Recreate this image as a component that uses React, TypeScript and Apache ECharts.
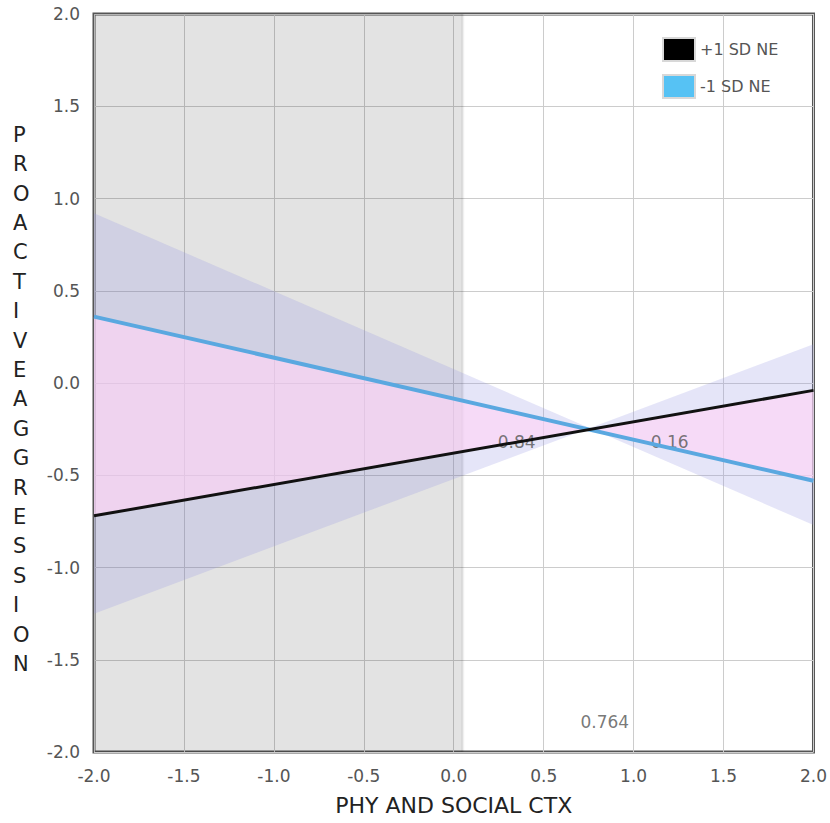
import React, { useEffect, useRef } from "react";
import * as echarts from "echarts";

// ---- data ----
const xRange = [-2, 2];
const plusSD = [-0.72, -0.04]; // +1 SD NE line at x=-2 and x=2
const minusSD = [0.36, -0.53]; // -1 SD NE line at x=-2 and x=2
const ciFalling = [0.92, -0.77]; // confidence band edge (falling)
const ciRising = [-1.25, 0.21]; // confidence band edge (rising)
const jnBound = 0.05; // end of shaded region of non-significance
const annotationX = [0.35, 1.2, 0.84];
const annotationY = [-0.32, -0.32, -1.84];
const annotationText = ["0.84", "0.16", "0.764"];
const yTitle = "PROACTIVEAGGRESSION";
const xTitle = "PHY AND SOCIAL CTX";
const seriesNames = ["+1 SD NE", "-1 SD NE"];

const FONT = "DejaVu Sans, Verdana, sans-serif";

export default function App() {
  const ref = useRef<HTMLDivElement>(null);
  useEffect(() => {
    const chart = echarts.init(ref.current!, null, { renderer: "svg" });

    const bowtie = (top: number[], bottom: number[], fill: string) => ({
      type: "custom",
      silent: true,
      clip: true,
      data: [0],
      renderItem: (_p: any, api: any) => {
        const pts = [
          api.coord([xRange[0], top[0]]),
          api.coord([xRange[1], top[1]]),
          api.coord([xRange[1], bottom[1]]),
          api.coord([xRange[0], bottom[0]]),
        ];
        return { type: "polygon", shape: { points: pts }, style: { fill } };
      },
      z: 1,
    });

    const option: any = {
      animation: false,
      backgroundColor: "#ffffff",
      grid: {
        left: 94,
        right: 14,
        top: 14,
        bottom: 71,
        show: true,
        borderColor: "#555555",
        borderWidth: 3,
        backgroundColor: "transparent",
      },
      legend: {
        orient: "vertical",
        left: 657,
        top: 32,
        itemWidth: 32,
        itemHeight: 23,
        itemGap: 12,
        icon: "rect",
        textStyle: { color: "#555", fontSize: 16, fontFamily: FONT },
        data: [
          {
            name: seriesNames[0],
            itemStyle: { color: "#000000", borderColor: "#d8d8d8", borderWidth: 2 },
          },
          {
            name: seriesNames[1],
            itemStyle: { color: "#56c2f4", borderColor: "#d8d8d8", borderWidth: 2 },
          },
        ],
      },
      xAxis: {
        type: "value",
        min: -2,
        max: 2,
        interval: 0.5,
        name: xTitle,
        nameLocation: "middle",
        nameGap: 42,
        nameTextStyle: { color: "#222", fontSize: 22, fontFamily: FONT },
        axisLine: { show: false },
        axisTick: { show: false },
        axisLabel: {
          color: "#555",
          fontSize: 17,
          fontFamily: FONT,
          margin: 15,
          formatter: (v: number) => v.toFixed(1),
        },
        splitLine: { show: true, lineStyle: { color: "#cccccc", width: 1 } },
      },
      yAxis: {
        type: "value",
        min: -2,
        max: 2,
        interval: 0.5,
        axisLine: { show: false },
        axisTick: { show: false },
        axisLabel: {
          color: "#555",
          fontSize: 17,
          fontFamily: FONT,
          margin: 14,
          formatter: (v: number) => v.toFixed(1),
        },
        splitLine: { show: true, lineStyle: { color: "#cccccc", width: 1 } },
      },
      graphic: [
        {
          type: "text",
          left: 13,
          top: 120,
          style: {
            text: yTitle.split("").join("\n"),
            fill: "#222",
            font: `21px ${FONT}`,
            lineHeight: 29.4,
            align: "center",
          },
        },
      ],
      series: [
        {
          type: "custom",
          silent: true,
          clip: true,
          data: [0],
          z: 0,
          renderItem: (_p: any, api: any) => {
            const a = api.coord([xRange[0], 2]);
            const b = api.coord([jnBound, -2]);
            return {
              type: "group",
              children: [
                {
                  type: "rect",
                  shape: { x: a[0], y: a[1], width: b[0] - a[0], height: b[1] - a[1] },
                  style: { fill: "rgba(0,0,0,0.11)" },
                },
                {
                  type: "line",
                  shape: { x1: b[0], y1: a[1], x2: b[0], y2: b[1] },
                  style: { stroke: "rgba(0,0,0,0.06)", lineWidth: 3 },
                },
              ],
            };
          },
        },
        bowtie(ciFalling, ciRising, "rgba(150,150,227,0.25)"),
        bowtie(minusSD, plusSD, "rgba(255,212,246,0.65)"),
        {
          type: "scatter",
          silent: true,
          symbolSize: 0,
          z: 2,
          data: annotationX.map((x, i) => [x, annotationY[i], annotationText[i]]),
          label: {
            show: true,
            position: "inside",
            formatter: (p: any) => p.value[2],
            color: "#555",
            fontSize: 17,
            fontFamily: FONT,
          },
        },
        {
          name: seriesNames[1],
          type: "line",
          data: xRange.map((x, i) => [x, minusSD[i]]),
          showSymbol: false,
          symbol: "none",
          z: 3,
          lineStyle: { color: "#5aa8e0", width: 4 },
          itemStyle: { color: "#56c2f4" },
        },
        {
          name: seriesNames[0],
          type: "line",
          data: xRange.map((x, i) => [x, plusSD[i]]),
          showSymbol: false,
          symbol: "none",
          z: 4,
          lineStyle: { color: "#111111", width: 3 },
          itemStyle: { color: "#000000" },
        },
      ],
    };
    chart.setOption(option);
    return () => chart.dispose();
  }, []);
  return (
    <div
      ref={ref}
      style={{ position: "fixed", left: 0, top: 0, width: 830, height: 823 }}
    />
  );
}
